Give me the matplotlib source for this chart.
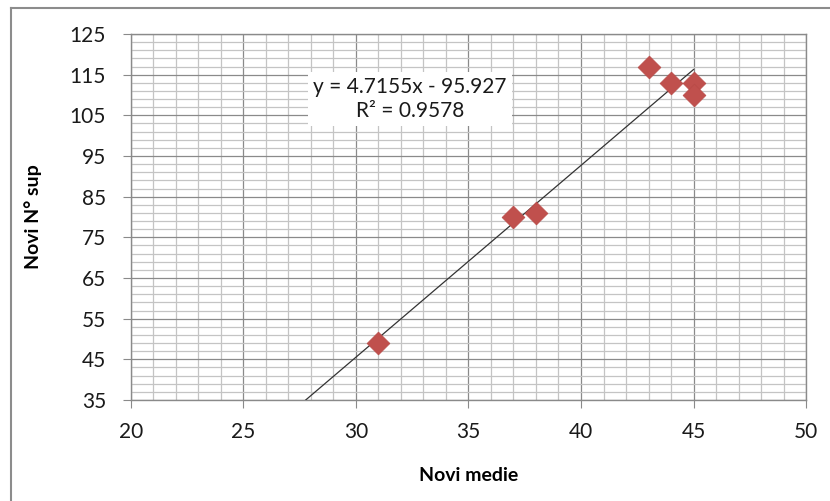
import numpy as np
import matplotlib
matplotlib.use('Agg')
import matplotlib.pyplot as plt
from matplotlib.ticker import MultipleLocator
from matplotlib.lines import Line2D

plt.rcParams['font.family'] = ['Lato', 'DejaVu Sans']

# data
novi_medie = [31, 37, 38, 43, 44, 45, 45]
novi_sup = [49, 80, 81, 117, 113, 113, 110]
slope = 4.7155
intercept = -95.927
r2 = 0.9578
y_ticks = np.arange(35, 126, 10)
y_minor = np.arange(35, 126, 2)

fig = plt.figure(figsize=(8.30, 5.01), dpi=100)
ax = fig.add_axes([0.1578, 0.2016, 0.8133, 0.7305])

# outer chart border (only left and top visible)
fig.add_artist(Line2D([11/830, 11/830], [0, 1 - 8/501], transform=fig.transFigure,
                      color='#8c8c8c', lw=1.5))
fig.add_artist(Line2D([11/830, 1], [1 - 8/501, 1 - 8/501], transform=fig.transFigure,
                      color='#8c8c8c', lw=1.5))

ax.set_xlim(20, 50)
ax.set_ylim(35, 125)
ax.xaxis.set_major_locator(MultipleLocator(5))
ax.xaxis.set_minor_locator(MultipleLocator(1))
ax.set_yticks(y_ticks)
ax.set_yticks(y_minor, minor=True)

ax.grid(which='major', color='#8a8a8a', lw=0.9)
ax.grid(which='minor', color='#c4c4c4', lw=0.9)
ax.set_axisbelow(True)

for s in ax.spines.values():
    s.set_color('#8a8a8a')
    s.set_linewidth(1.0)

ax.tick_params(which='major', direction='out', length=6, color='#8a8a8a',
               labelsize=15, labelcolor='#1a1a1a')
ax.tick_params(axis='x', which='major', pad=10)
ax.tick_params(axis='y', which='major', pad=12)
ax.tick_params(which='minor', length=0)

# trendline
x0 = (35 - intercept) / slope
xt = np.array([x0, max(novi_medie)])
ax.plot(xt, slope * xt + intercept, color='#333333', lw=0.9, zorder=3)

ax.scatter(novi_medie, novi_sup, marker='D', s=135, color='#c0504d',
           edgecolors='#b84a47', linewidths=0.5, zorder=4)

ax.text(32.4, 109.0, 'y = 4.7155x - 95.927\nR² = 0.9578', ha='center', va='center',
        fontsize=15, color='#1a1a1a', linespacing=1.2, zorder=5,
        bbox=dict(facecolor='white', edgecolor='none', pad=4))

ax.set_xlabel('Novi medie', fontsize=14, fontweight='bold', labelpad=18)
ax.set_ylabel('Novi N° sup', fontsize=14, fontweight='bold', labelpad=20)

fig.savefig('out.png', dpi=100)
